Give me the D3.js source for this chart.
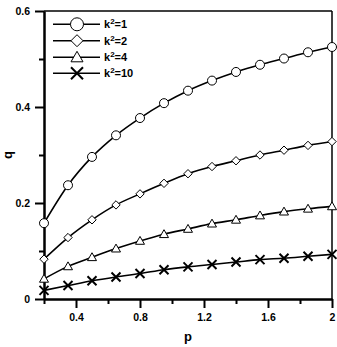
<!DOCTYPE html>
<html><head><meta charset="utf-8">
<script src="https://cdn.jsdelivr.net/npm/d3@7"></script>
<style>body{margin:0;background:#fff}svg{display:block;font-family:"Liberation Sans",Arial,sans-serif;font-weight:bold}</style>
</head><body>
<svg id="c" width="337" height="347"></svg>
<script>
const pValues = [0.2,0.35,0.5,0.65,0.8,0.95,1.1,1.25,1.4,1.55,1.7,1.85,2.0];
const q_k1  = [0.158,0.237,0.296,0.341,0.377,0.408,0.434,0.455,0.473,0.488,0.501,0.514,0.525];
const q_k2  = [0.083,0.128,0.165,0.196,0.219,0.241,0.261,0.276,0.288,0.300,0.310,0.320,0.328];
const q_k4  = [0.042,0.068,0.087,0.105,0.121,0.135,0.146,0.157,0.165,0.174,0.182,0.188,0.193];
const q_k10 = [0.018,0.028,0.038,0.046,0.053,0.061,0.067,0.072,0.077,0.082,0.085,0.089,0.093];
const seriesNames = ["1","2","4","10"];
const seriesMarkers = ["circle","diamond","triangle","cross"];
const xMajorTicks = [0.4,0.8,1.2,1.6,2.0];
const xMinorTicks = [0.2,0.6,1.0,1.4,1.8];
const yMajorTicks = [0,0.2,0.4,0.6];
const yMinorTicks = [0.1,0.3,0.5];

const series = [q_k1,q_k2,q_k4,q_k10];
const svg = d3.select("#c");
const L=44,R=332,T=11,B=299;
const x = d3.scaleLinear().domain([0.2,2]).range([L,R]);
const y = d3.scaleLinear().domain([0,0.6]).range([B,T]);

// frame
svg.append("line").attr("x1",L).attr("x2",R).attr("y1",T).attr("y2",T).attr("stroke","#000").attr("stroke-width",1.5);
svg.append("line").attr("x1",R).attr("x2",R).attr("y1",T).attr("y2",B).attr("stroke","#000").attr("stroke-width",1.5);

const fmt = d => d===0?"0":(d===2?"2":d3.format(".1f")(d));
// x axis
svg.append("g").attr("transform",`translate(0,${B})`)
  .call(d3.axisBottom(x).tickValues(xMajorTicks).tickSize(9).tickSizeOuter(0).tickPadding(6).tickFormat(fmt));
svg.append("g").attr("transform",`translate(0,${B})`)
  .call(d3.axisBottom(x).tickValues(xMinorTicks).tickSize(5).tickSizeOuter(0).tickFormat(""));
// y axis
svg.append("g").attr("transform",`translate(${L},0)`)
  .call(d3.axisLeft(y).tickValues(yMajorTicks).tickSize(9).tickSizeOuter(0).tickPadding(5).tickFormat(fmt));
svg.append("g").attr("transform",`translate(${L},0)`)
  .call(d3.axisLeft(y).tickValues(yMinorTicks).tickSize(5).tickSizeOuter(0).tickFormat(""));
svg.selectAll(".domain").attr("stroke","#000").attr("stroke-width",2);
svg.selectAll(".tick line").attr("stroke","#000").attr("stroke-width",2);
svg.selectAll(".tick text").attr("font-size","10.5px").attr("font-weight","bold").attr("fill","#000").attr("font-family",'"Liberation Sans",Arial,sans-serif');

// axis labels
svg.append("text").attr("x",(L+R)/2).attr("y",341).attr("text-anchor","middle").attr("font-size","13px").text("p");
svg.append("text").attr("transform",`translate(12,${(T+B)/2}) rotate(-90)`).attr("text-anchor","middle").attr("font-size","13px").text("q");

function drawMarker(g, type, cx, cy, s){
  if(type==="circle") g.append("circle").attr("cx",cx).attr("cy",cy).attr("r",s).attr("fill","#fff").attr("stroke","#000").attr("stroke-width",1);
  else if(type==="diamond") g.append("path").attr("d",`M${cx},${cy-s}L${cx+s},${cy}L${cx},${cy+s}L${cx-s},${cy}Z`).attr("fill","#fff").attr("stroke","#000").attr("stroke-width",1);
  else if(type==="triangle") g.append("path").attr("d",`M${cx},${cy-s}L${cx+s},${cy+s*0.75}L${cx-s},${cy+s*0.75}Z`).attr("fill","#fff").attr("stroke","#000").attr("stroke-width",1);
  else g.append("path").attr("d",`M${cx-s},${cy-s}L${cx+s},${cy+s}M${cx+s},${cy-s}L${cx-s},${cy+s}`).attr("stroke","#000").attr("stroke-width",2);
}
const line = d3.line().x((d,i)=>x(pValues[i])).y(d=>y(d)).curve(d3.curveMonotoneX);
const msize = [4.5,4.2,4.5,4.5];
series.forEach((s,k)=>{
  const g = svg.append("g");
  g.append("path").attr("d",line(s)).attr("fill","none").attr("stroke","#000").attr("stroke-width",1.6);
  s.forEach((v,i)=>drawMarker(g, seriesMarkers[k], x(pValues[i]), y(v), msize[k]));
});

// legend
const legY = [24.3,40.7,57.3,73.3];
const lmsize = [6.5,6,6,6];
seriesNames.forEach((n,k)=>{
  const g = svg.append("g");
  g.append("line").attr("x1",53).attr("x2",100).attr("y1",legY[k]).attr("y2",legY[k]).attr("stroke","#000").attr("stroke-width",1.6);
  drawMarker(g, seriesMarkers[k], 77, legY[k], lmsize[k]);
  const t = g.append("text").attr("x",104).attr("y",legY[k]+4).attr("font-size","11px");
  t.append("tspan").text("k");
  t.append("tspan").attr("font-size","8px").attr("dy",-4).text("2");
  t.append("tspan").attr("dy",4).text("="+n);
});
</script>
</body></html>
